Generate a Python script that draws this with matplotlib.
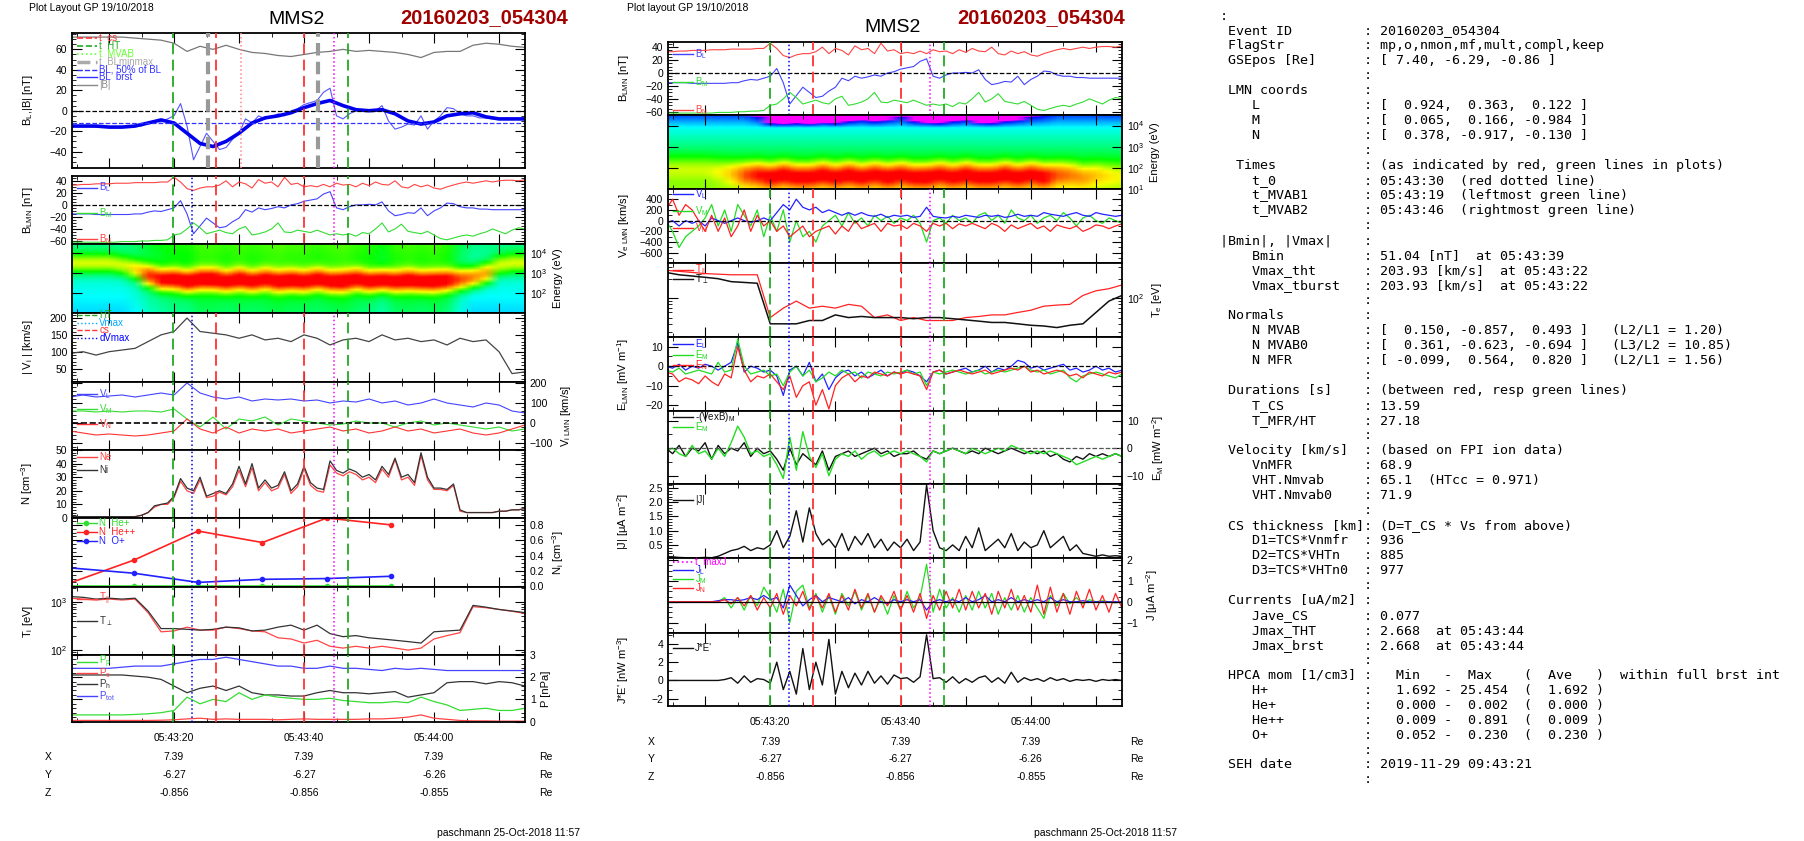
import numpy as np
import matplotlib
matplotlib.use("Agg")
import matplotlib.pyplot as plt
from matplotlib.colors import LinearSegmentedColormap
from matplotlib.ticker import MultipleLocator, FixedLocator, NullFormatter

plt.rcParams['font.family'] = ['Liberation Sans', 'DejaVu Sans']
plt.rcParams['font.size'] = 7.5
plt.rcParams['mathtext.fontset'] = 'custom'
plt.rcParams['mathtext.rm'] = 'Liberation Sans'
plt.rcParams['mathtext.it'] = 'Liberation Sans'

W, H = 1804, 841
# ---------------- data (seconds after 05:43:00) ----------------
ts = np.arange(4, 75, 2)          # 36 coarse samples
tf = np.arange(4, 75, 1)          # 71 fine samples

B_tot = [72,72,72,72,72,71,70,69,66,58,63,60,64,60,57,56,54,53,55,57,58,60,58,59,58,57,55,52,57,58,58,64,66,65,63,62]
BL_smooth = [-15,-15,-15,-16,-16,-15,-12,-9,-12,-22,-32,-35,-30,-22,-12,-7,-5,-2,3,7,10,5,1,0,1,-3,-10,-13,-11,-5,-3,-2,-6,-8,-8,-8]
BL_half = -12
BL = [-15,-15,-15,-15,-16,-16,-16,-16,-16,-16,-15,-15,-12,-10,-11,-8,-5,7,-15,-48,-35,-22,-30,-38,-36,-28,-22,-8,-12,-5,
      -8,-6,-3,-5,0,2,6,8,10,18,22,-5,-8,-3,0,0,1,0,5,-10,-18,-16,-13,-14,-5,-18,-10,-5,3,2,-3,-5,-5,-7,-7,-8,-8,-8,-8,-8,-8]
BM = [33,33,34,34,35,35,35,36,36,36,37,37,37,37,38,38,46,38,27,24,28,30,30,33,40,30,38,35,28,42,36,38,30,46,34,36,30,32,30,34,
      30,36,33,34,30,36,32,38,34,33,40,30,28,34,30,33,28,26,30,33,36,38,36,38,40,38,40,41,41,40,42]
BN = [-62,-62,-62,-62,-62,-62,-62,-62,-61,-61,-61,-60,-60,-59,-59,-58,-50,-48,-40,-30,-38,-48,-45,-42,-46,-48,-40,-36,-50,-48,
      -45,-40,-30,-45,-46,-42,-44,-46,-42,-46,-50,-48,-50,-48,-52,-46,-48,-40,-30,-45,-40,-32,-44,-46,-48,-44,-50,-56,-58,-55,
      -52,-50,-52,-48,-45,-40,-44,-48,-42,-38,-40]

# spectrogram profiles (log10 energy of flux peak, peak strength, low-energy background level)
ion_peak = [3.5,3.5,3.5,3.5,3.4,3.2,2.9,2.7,2.7,2.6,2.7,2.7,2.6,2.7,2.6,2.7,2.6,2.65,2.6,2.7,2.6,2.6,2.7,2.6,2.65,2.6,2.65,2.6,2.6,2.65,2.7,2.8,3.0,3.4,3.5,3.5]
ion_amp = [0.25,0.25,0.25,0.25,0.25,0.3,0.5,0.6,0.62,0.66,0.62,0.64,0.6,0.62,0.6,0.58,0.6,0.62,0.6,0.62,0.6,0.63,0.6,0.62,0.64,0.6,0.62,0.6,0.62,0.6,0.5,0.45,0.4,0.25,0.25,0.25]
ion_low = [0.22,0.22,0.22,0.22,0.22,0.24,0.28,0.3,0.32,0.32,0.35,0.35,0.34,0.35,0.34,0.35,0.36,0.35,0.35,0.34,0.35,0.36,0.34,0.33,0.3,0.34,0.35,0.34,0.35,0.33,0.26,0.22,0.22,0.22,0.22,0.22]
ele_peak = [2.0,2.0,2.0,2.0,1.9,1.8,1.7,1.7,1.6,1.7,1.6,1.6,1.7,1.6,1.7,1.6,1.7,1.6,1.7,1.6,1.6,1.7,1.6,1.7,1.6,1.6,1.7,1.6,1.7,1.6,1.7,1.7,1.6,1.7,1.7,1.7]
ele_amp = [0.12,0.12,0.12,0.12,0.14,0.2,0.35,0.45,0.5,0.52,0.5,0.5,0.52,0.5,0.52,0.5,0.5,0.52,0.5,0.5,0.52,0.5,0.5,0.52,0.5,0.5,0.52,0.5,0.5,0.5,0.35,0.3,0.25,0.2,0.15,0.12]
ele_low = [0.5,0.5,0.5,0.5,0.5,0.5,0.5,0.5,0.5,0.5,0.5,0.5,0.5,0.5,0.5,0.5,0.5,0.5,0.5,0.5,0.5,0.5,0.5,0.5,0.5,0.5,0.5,0.5,0.5,0.5,0.5,0.5,0.5,0.5,0.5,0.5]
ele_drop = [0.05,0.05,0.05,0.05,0.05,0.05,0.05,0.1,0.3,0.35,0.3,0.35,0.25,0.3,0.2,0.15,0.2,0.15,0.1,0.2,0.25,0.3,0.2,0.15,0.25,0.3,0.2,0.15,0.1,0.08,0.05,0.05,0.05,0.05,0.05,0.05]

Vi_mag = [95,100,90,100,105,110,130,150,160,200,160,155,150,140,150,135,140,130,150,140,120,135,140,130,150,135,140,130,135,120,140,130,135,100,35,40]
ViL = [130,140,130,135,140,130,140,150,140,200,150,130,120,130,110,120,115,120,110,115,100,110,105,120,100,110,90,100,120,100,90,80,100,90,60,50]
ViM = [60,60,55,60,55,60,60,55,70,20,-20,30,-30,20,10,30,-10,20,10,0,-10,-5,10,0,0,-20,0,10,-10,0,-10,-20,-30,-20,-40,-30]
ViN = [-40,-50,-60,-55,-60,-65,-60,-50,-40,20,-30,-50,-20,-50,-30,-40,-30,-50,-40,-30,-20,-40,-30,-50,-40,-20,-40,-30,-50,-40,-30,-50,-60,-50,-30,-10]

Ni = [1,1,1,1,1,1,1,1,1,1,1,2,4,9,10,11,16,29,22,20,30,16,18,20,18,25,38,25,40,22,28,22,24,34,20,25,38,26,22,21,
      42,35,33,36,34,30,32,28,38,32,44,30,32,26,48,30,22,22,21,25,6,4,4,4,4,4,5,5,6,6,7]
Ne = [1,1,1,1,1,1,1,1,1,1,1,2,4,8,10,10,15,27,20,18,28,15,16,19,17,23,35,23,37,20,26,20,22,32,18,23,36,24,20,19,
      39,33,31,34,32,28,30,26,36,30,43,28,30,24,46,28,21,21,20,24,5,4,4,4,4,4,5,5,6,6,7]

hp_t = [3.9,13.8,23.7,33.6,43.5,53.4]
N_Hepp = [0.04,0.34,0.72,0.57,0.89,0.80]
N_Op = [0.24,0.17,0.05,0.09,0.10,0.13]
N_Hep = [0.0,0.0,0.0,0.0,0.0,0.0]

Ti_perp = [1300,1250,1150,1200,1150,1200,650,280,280,270,260,270,300,290,250,260,300,330,260,330,220,190,200,180,170,160,150,140,240,250,260,850,780,700,650,600]
Ti_par = [1200,1150,1100,1150,1100,1150,600,240,250,300,260,260,300,280,250,240,180,170,140,160,120,110,120,110,120,110,100,110,170,200,230,800,760,700,640,580]

P_tot = [2.4,2.4,2.4,2.4,2.45,2.5,2.5,2.5,2.6,2.7,2.8,2.8,2.9,2.8,2.7,2.6,2.5,2.5,2.4,2.4,2.5,2.4,2.4,2.35,2.3,2.4,2.35,2.4,2.35,2.3,2.3,2.3,2.3,2.3,2.3,2.3]
P_h = [2.1,2.1,2.1,2.1,2.1,2.05,2.0,1.9,1.6,1.3,1.5,1.6,1.4,1.6,1.3,1.2,1.2,1.15,1.15,1.3,1.4,1.3,1.3,1.25,1.3,1.35,1.1,1.2,1.3,1.75,1.8,1.8,1.7,1.8,1.75,1.6]
P_p = [0.3,0.3,0.3,0.3,0.3,0.32,0.35,0.4,0.5,1.1,0.8,1.0,0.9,1.3,1.0,1.2,1.1,1.05,1.0,1.0,1.05,0.95,0.9,0.85,0.85,0.9,0.85,1.1,0.9,0.75,0.5,0.55,0.6,0.5,0.5,0.6]
P_e = [0.05,0.05,0.05,0.05,0.05,0.05,0.05,0.06,0.08,0.12,0.15,0.1,0.12,0.1,0.1,0.1,0.08,0.1,0.12,0.1,0.1,0.1,0.1,0.12,0.12,0.15,0.2,0.3,0.15,0.1,0.05,0.03,0.03,0.02,0.02,0.02]

VeL = [-50,0,-100,0,-50,0,-100,50,0,-50,0,50,0,-30,0,50,0,150,300,200,400,250,200,250,150,200,150,100,150,100,150,100,80,120,60,100,
       80,100,60,80,250,80,60,50,80,60,100,80,60,100,80,100,60,80,120,80,100,80,150,120,100,80,120,150,100,80,150,120,100,80,100]
VeM = [0,-200,-500,-300,-200,-100,50,300,-100,200,-200,300,100,-100,200,-300,100,-200,200,-400,0,-300,-200,-400,-100,0,100,-100,150,-50,50,-100,100,0,80,-50,
       50,0,100,-50,-400,0,50,-50,100,0,50,-50,100,150,0,100,-50,200,50,0,100,-50,50,100,0,150,50,-100,50,100,0,-50,50,0,-50]
VeN = [200,400,100,300,200,0,-200,100,-200,50,-300,-100,200,-200,100,-100,0,-200,-100,-300,-200,-100,-300,-200,-150,-100,-250,-100,-200,0,-150,-100,-50,-200,-50,-100,
       -80,-150,-50,-100,-200,-50,-100,-50,-150,-60,-100,-50,-100,-150,-50,-100,-200,-80,-150,-100,-50,-150,-100,-200,-80,-120,-150,-100,-200,-150,-80,-100,-150,-100,-60]

Te_perp = [250,230,220,210,200,180,175,170,40,40,40,45,45,55,50,52,50,50,50,48,50,50,48,46,44,42,42,40,38,37,35,38,40,60,90,110]
Te_par = [270,260,250,240,235,230,230,230,50,70,90,70,75,70,80,75,50,55,45,50,45,45,45,50,52,55,55,60,65,75,78,80,110,130,140,160]

EL = [0,-1,1,-2,0,-1,1,0,-2,0,2,12,-3,0,-1,-3,-2,-5,-15,-2,0,-5,2,-8,-4,-12,-6,-3,-2,-5,-3,-6,-4,-2,-5,-3,-4,
      -2,-3,-5,-8,-3,-2,-4,-3,-2,-1,-3,-2,0,-3,-1,-2,0,3,2,-1,0,-2,-1,0,1,-2,-1,-3,-2,0,-2,-1,-3,-2]
EM = [-2,-3,-1,-4,-3,-2,-3,-4,2,-3,-2,14,0,-4,-3,-2,-5,-4,-10,-3,0,-5,-2,-8,-6,-3,-5,-2,-4,-3,-6,-3,-4,-5,-3,-4,-3,
      -2,-4,-3,-10,-3,-4,-3,-2,-3,-4,-3,-2,-4,-3,-2,-3,-2,-1,0,-2,-3,-2,-4,-3,-2,-6,-8,-5,-4,-3,-4,-5,-6,-4]
EN = [-3,-4,-8,-6,-7,-9,-5,-8,-10,-4,-6,10,-2,-8,-5,-6,-4,-8,-12,-5,-16,-10,-8,-20,-12,-22,-10,-6,-4,-8,-5,-6,-3,-4,-5,-3,-4,
      -3,-4,-5,-12,-3,-2,-4,-3,-2,-3,-4,-3,-2,-4,-3,-2,-1,-2,0,-3,-2,-4,-3,-2,-3,-5,-4,-6,-3,-4,-5,-3,-4,-3]
VxB_M = [0,-2,1,-3,0,-1,2,-4,1,-2,0,-1,2,-3,0,-2,-1,-4,-8,0,-6,-2,-4,-6,-1,-8,-3,-2,-1,-3,-2,-1,0,-2,-1,-3,-2,
         -2,-1,-3,-4,-1,-2,-1,0,-1,-2,-1,-2,0,-1,-2,-1,0,-1,-2,-1,-2,-1,-3,-2,-4,-5,-3,-4,-2,-3,-2,-3,-2,-3]
EM2 = [-1,0,-2,-3,1,-2,-1,-4,0,-3,2,8,4,-2,-1,-3,-2,-6,-11,4,-8,6,-3,-7,-2,-10,-4,-2,-3,-1,-4,-2,-1,-3,-2,-1,-2,
       -1,-2,-3,-5,-1,-2,-1,0,-1,-2,0,-1,-2,-1,0,-1,1,0,-1,-2,-1,-2,-1,-2,-3,-4,-6,-5,-4,-3,-4,-3,-2,-3]

J_mag = [0.1,0.08,0.06,0.05,0.05,0.05,0.06,0.05,0.1,0.2,0.3,0.35,0.45,0.3,0.4,0.35,0.5,1.0,0.4,0.8,1.7,0.6,1.8,0.9,0.5,0.7,0.4,0.9,0.3,0.8,0.5,0.9,0.4,0.7,0.3,0.6,0.4,
         0.7,0.3,0.6,2.6,1.0,0.4,0.3,0.5,0.3,0.8,0.4,1.1,0.3,0.5,0.7,0.4,0.9,0.3,0.6,0.4,0.5,1.0,0.4,0.6,0.8,0.3,0.5,0.2,0.15,0.1,0.15,0.1,0.12,0.1]
JL = [0,0,0,0,0,0,0,0,0.05,0.1,0.1,0.05,0.1,0.2,0.1,0.3,0.1,0.2,-0.3,0.8,0.3,-0.2,0.1,0.3,0,0.2,0.1,0,0.2,-0.1,0.1,0,0.2,0,-0.1,0.1,0,
      0.1,0,0.1,-0.4,0,0.1,0,0.1,0,0.2,0,0.1,0.3,0,0.1,0,0.2,0,0.1,0,0.1,0,0.2,0,0.1,0,0,0.05,0,0,0,0,0,0]
JM = [0,0,0,0,0,0,0,0,0,0.2,-0.3,0.2,-0.4,0.3,-0.2,0.7,0.2,-0.5,0.6,-1.0,0.5,0.8,-0.3,0.4,-0.5,0.3,-0.6,0.4,-0.2,0.5,-0.4,0.3,-0.5,0.2,-0.6,0.3,-0.4,
      0.5,-0.3,0.2,1.8,-0.5,0.6,-0.3,0.2,-0.5,0.3,-0.4,0.5,-0.3,0.4,-0.6,0.2,-0.4,0.3,-0.5,0.2,-0.3,-0.8,0.3,-0.2,0.4,-0.1,0.2,-0.1,0.1,0,0.05,0,-0.05,0]
JN = [0,0,0,0,0,0,0,0,0,0.1,-0.1,0.2,-0.2,0.3,-0.4,0.2,-0.3,0.4,-0.6,0.3,-0.2,0.5,-0.4,0.3,-0.3,0.4,-0.5,0.3,-0.4,0.6,-0.3,0.4,-0.5,0.3,-0.2,0.5,-0.4,
      0.3,-0.5,0.4,-0.8,0.3,-0.4,0.5,-0.3,0.6,-0.4,0.5,-0.3,0.4,-0.6,0.5,-0.3,0.6,-0.4,0.3,-0.5,0.8,-0.6,0.7,-0.5,0.4,-0.6,0.5,-0.3,0.6,-0.4,0.3,-0.5,0.4,-0.3]
JE = [0,0,0,0,0,0,0,0,0,0.1,0.3,-0.3,0.5,-0.2,0.2,0.1,-0.3,2,-1,1,-1.5,3.5,-1,2,-0.5,4.5,-1.5,1,-0.8,0.8,-0.5,1,-0.3,0.5,-0.4,0.6,0.2,
      0.3,-0.2,0.4,5,0.2,0.3,-0.2,0.4,-0.3,0.2,-0.2,0.3,0.5,-0.2,0.3,-0.3,0.9,-0.2,0.3,0,0.2,-0.1,0.3,0,0.2,-0.1,0.1,0,0.1,-0.1,0.1,0,0.1,0]

t_green = [19.9, 46.7]; t_red = [26.5, 40.0]; t_blue = 22.8; t_mag = 44.6
t_gray = [25.2, 42.1]; t_zero = 30.3
pos_ticks = [20, 40, 60]
pos_X = ['7.39', '7.39', '7.39']; pos_Y = ['-6.27', '-6.27', '-6.26']; pos_Z = ['-0.856', '-0.856', '-0.855']

info = [
    (None, ':'),
    (' Event ID', '20160203_054304'), (' FlagStr', 'mp,o,nmon,mf,mult,compl,keep'),
    (' GSEpos [Re]', '[ 7.40, -6.29, -0.86 ]'), ('', ''), (' LMN coords', ''),
    ('    L', '[  0.924,  0.363,  0.122 ]'), ('    M', '[  0.065,  0.166, -0.984 ]'),
    ('    N', '[  0.378, -0.917, -0.130 ]'), ('', ''),
    ('  Times', '(as indicated by red, green lines in plots)'),
    ('    t_0', '05:43:30  (red dotted line)'), ('    t_MVAB1', '05:43:19  (leftmost green line)'),
    ('    t_MVAB2', '05:43:46  (rightmost green line)'), ('', ''),
    ('|Bmin|, |Vmax|', ''), ('    Bmin', '51.04 [nT]  at 05:43:39'),
    ('    Vmax_tht', '203.93 [km/s]  at 05:43:22'), ('    Vmax_tburst', '203.93 [km/s]  at 05:43:22'), ('', ''),
    (' Normals', ''), ('    N MVAB', '[  0.150, -0.857,  0.493 ]   (L2/L1 = 1.20)'),
    ('    N MVAB0', '[  0.361, -0.623, -0.694 ]   (L3/L2 = 10.85)'),
    ('    N MFR', '[ -0.099,  0.564,  0.820 ]   (L2/L1 = 1.56)'), ('', ''),
    (' Durations [s]', '(between red, resp green lines)'), ('    T_CS', '13.59'), ('    T_MFR/HT', '27.18'), ('', ''),
    (' Velocity [km/s]', '(based on FPI ion data)'), ('    VnMFR', '68.9'),
    ('    VHT.Nmvab', '65.1  (HTcc = 0.971)'), ('    VHT.Nmvab0', '71.9'), ('', ''),
    (' CS thickness [km]', '(D=T_CS * Vs from above)'), ('    D1=TCS*Vnmfr', '936'),
    ('    D2=TCS*VHTn', '885'), ('    D3=TCS*VHTn0', '977'), ('', ''),
    (' Currents [uA/m2]', ''), ('    Jave_CS', '0.077'), ('    Jmax_THT', '2.668  at 05:43:44'),
    ('    Jmax_brst', '2.668  at 05:43:44'), ('', ''),
    (' HPCA mom [1/cm3]', '  Min   -  Max    (  Ave   )  within full brst int'),
    ('    H+', '  1.692 - 25.454  (  1.692 )'), ('    He+', '  0.000 -  0.002  (  0.000 )'),
    ('    He++', '  0.009 -  0.891  (  0.009 )'), ('    O+', '  0.052 -  0.230  (  0.230 )'), ('', ''),
    (' SEH date', '2019-11-29 09:43:21'), ('', ''),
]

# ---------------- helpers ----------------
fig = plt.figure(figsize=(W/100, H/100), dpi=100)
XL = (4.3, 74.0)

def add_ax(l, t, r, b):
    return fig.add_axes([l/W, 1-b/H, (r-l)/W, (b-t)/H])

def style(ax, right=False, last=False):
    ax.set_xlim(*XL)
    ax.xaxis.set_major_locator(MultipleLocator(10))
    ax.xaxis.set_minor_locator(MultipleLocator(5))
    ax.tick_params(which='both', direction='in', top=True, right=True, left=True, labelsize=7.5)
    ax.tick_params(which='major', length=7)
    ax.tick_params(which='minor', length=3)
    for s in ax.spines.values():
        s.set_linewidth(1.3)
    if right:
        ax.yaxis.tick_right(); ax.yaxis.set_label_position('right')
        ax.tick_params(left=True, right=True, which='both')
    if last:
        ax.xaxis.set_major_locator(FixedLocator([10, 20, 30, 40, 50, 60, 70]))
        ax.set_xticklabels(['', '05:43:20', '', '05:43:40', '', '05:44:00', ''])
        ax.tick_params(axis='x', pad=8)
    else:
        ax.xaxis.set_major_formatter(NullFormatter())

def vlines(ax, gray=False, blue=True, zero=False):
    for t in t_green:
        ax.axvline(t, color='#22aa22', ls=(0, (6, 3)), lw=1.3, zorder=5)
    for t in t_red:
        ax.axvline(t, color='#ff3333', ls=(0, (6, 3)), lw=1.3, zorder=5)
    if blue:
        ax.axvline(t_blue, color='#0000ff', ls=':', lw=1.1, zorder=5)
    ax.axvline(t_mag, color='#ff00ff', ls=':', lw=1.1, zorder=5)
    if gray:
        for t in t_gray:
            ax.axvline(t, color='#999999', ls=(0, (3, 1.5)), lw=3, zorder=5)
    if zero:
        ax.axvline(t_zero, color='#ff8888', ls=':', lw=1.1, zorder=5)

def legend(ax, items, y0=0.93, dy=None, px=11):
    bb = ax.get_position()
    hpx = bb.height * H
    d = px / hpx if dy is None else dy
    for i, (lab, col, ls, lw) in enumerate(items):
        y = y0 - i * d
        ax.plot([0.012, 0.055], [y, y], transform=ax.transAxes, color=col, ls=ls, lw=lw, zorder=7, clip_on=False)
        ax.text(0.06, y, lab, transform=ax.transAxes, color=col, fontsize=7, va='center', ha='left', zorder=7)

cmap = LinearSegmentedColormap.from_list('spec', ['#0000ff', '#00ffff', '#00ff00', '#ffff00', '#ff8000', '#ff0000'])
cmap.set_under('#ff00ff')

def spectro(ax, peak, amp, low, slope, w, drop=None, lo=1.0, hi=4.5, dcut=4.0):
    le = np.linspace(lo, hi, 80)
    tt = np.asarray(ts, float)
    Z = np.zeros((len(le), len(tt)))
    for j in range(len(tt)):
        base = low[j] - slope * (le - lo)
        if drop is not None:
            base = base - drop[j] * np.clip(le - dcut, 0, None) * 2.5
        Z[:, j] = base + amp[j] * np.exp(-((le - peak[j]) / w) ** 2)
    ax.pcolormesh(tt, 10 ** le, Z, cmap=cmap, vmin=0.08, vmax=0.9, shading='gouraud')
    ax.set_yscale('log')
    ax.set_ylim(10 ** lo, 10 ** hi)

def left_label(ax, s):
    ax.set_ylabel(s, fontsize=8)
    ax.yaxis.set_label_coords(-0.082, 0.5)

# ---------------- LEFT COLUMN ----------------
Lx0, Lx1 = 72, 525
rows = [(33, 168), (176, 244), (244, 313), (313, 382), (382, 450), (450, 518), (518, 587), (587, 655), (655, 722)]
A = [add_ax(Lx0, t, Lx1, b) for t, b in rows]

ax = A[0]; style(ax)
ax.plot(ts, B_tot, color='#777777', lw=0.9)
ax.plot(tf, BL, color='#5555ff', lw=0.8)
ax.plot(ts, BL_smooth, color='#0000ee', lw=2.6)
ax.axhline(BL_half, color='#3333ff', ls='--', lw=0.9)
ax.axhline(0, color='k', ls='--', lw=0.9)
vlines(ax, gray=True, blue=False, zero=True)
ax.set_ylim(-56, 76); ax.yaxis.set_major_locator(MultipleLocator(20)); ax.yaxis.set_minor_locator(MultipleLocator(5))
left_label(ax, 'B$_L$,|B| [nT]')
legend(ax, [('t  cs', '#ff3333', '--', 1.2), ('t  HT', '#22aa22', '--', 1.2), ('t  MVAB', '#66ff33', ':', 1.2),
            ('t  BLminmax', '#aaaaaa', '--', 2.5), ('BL, 50% of BL', '#3333ff', '--', 1), ('BL  brst', '#3333ff', '-', 1),
            ('|B|', '#888888', '-', 1)], y0=0.96, px=7.8)

def blmn(ax):
    ax.plot(tf, BM, color='#ff4444', lw=0.8)
    ax.plot(tf, BL, color='#4444ff', lw=0.8)
    ax.plot(tf, BN, color='#33dd33', lw=0.8)
    ax.axhline(0, color='k', ls='--', lw=0.9)
    ax.set_ylim(-65, 48); ax.yaxis.set_major_locator(MultipleLocator(20)); ax.yaxis.set_minor_locator(MultipleLocator(5))
    left_label(ax, 'B$_{LMN}$ [nT]')
    legend(ax, [('B$_L$', '#4444ff', '-', 1), ('B$_M$', '#33dd33', '-', 1), ('B$_N$', '#ff4444', '-', 1)], y0=0.83, dy=0.38)

ax = A[1]; style(ax); blmn(ax); vlines(ax)

ax = A[2]; style(ax, right=True)
spectro(ax, ion_peak, ion_amp, ion_low, -0.03, 0.5, lo=1.0, hi=4.45)
ax.yaxis.set_major_locator(FixedLocator([1e2, 1e3, 1e4]))
ax.set_ylabel('Energy (eV)', fontsize=8)

ax = A[3]; style(ax)
ax.plot(ts, Vi_mag, color='#444444', lw=0.9)
vlines(ax)
ax.set_ylim(10, 215); ax.yaxis.set_major_locator(MultipleLocator(50)); ax.yaxis.set_minor_locator(MultipleLocator(10))
left_label(ax, '| V$_i$ | [km/s]')
legend(ax, [('HT', '#22aa22', '--', 1), ('Vmax', '#00aaff', ':', 1), ('cs', '#ff3333', '--', 1), ('dVmax', '#0000ff', ':', 1)], y0=0.97, px=7.5)

ax = A[4]; style(ax, right=True)
ax.plot(ts, ViL, color='#4444ff', lw=0.8); ax.plot(ts, ViM, color='#33dd33', lw=0.8); ax.plot(ts, ViN, color='#ff3333', lw=0.8)
ax.axhline(0, color='k', ls='--', lw=1.2)
vlines(ax)
ax.set_ylim(-135, 205); ax.yaxis.set_major_locator(MultipleLocator(100)); ax.yaxis.set_minor_locator(MultipleLocator(20))
ax.set_ylabel('V$_{i\\ LMN}$ [km/s]', fontsize=8)
legend(ax, [('V$_L$', '#4444ff', '-', 1), ('V$_M$', '#33dd33', '-', 1), ('V$_N$', '#ff3333', '-', 1)], y0=0.82, dy=0.22)

ax = A[5]; style(ax)
ax.plot(tf, Ne, color='#ff4444', lw=0.9); ax.plot(tf, Ni, color='#333333', lw=0.9)
vlines(ax)
ax.set_ylim(0, 50); ax.yaxis.set_major_locator(MultipleLocator(10)); ax.yaxis.set_minor_locator(MultipleLocator(2))
left_label(ax, 'N [cm$^{-3}$]')
legend(ax, [('Ne', '#ff4444', '-', 1), ('Ni', '#333333', '-', 1)], y0=0.9, dy=0.19)

ax = A[6]; style(ax, right=True)
ax.plot(hp_t, N_Hep, color='#33dd33', marker='o', ms=3, lw=1.2)
ax.plot(hp_t, N_Hepp, color='#ff2222', marker='o', ms=3, lw=1.2)
ax.plot(hp_t, N_Op, color='#2222ff', marker='o', ms=3, lw=1.2)
vlines(ax)
ax.set_ylim(-0.01, 0.89); ax.yaxis.set_major_locator(MultipleLocator(0.2)); ax.yaxis.set_minor_locator(MultipleLocator(0.05))
ax.yaxis.set_major_formatter(matplotlib.ticker.FormatStrFormatter('%.1f'))
ax.set_ylabel('N$_i$ [cm$^{-3}$]', fontsize=8)
for i, (lab, col) in enumerate([('N  He+', '#33dd33'), ('N  He++', '#ff2222'), ('N  O+', '#2222ff')]):
    y = 0.93 - i * 0.13
    ax.plot([0.03], [y], transform=ax.transAxes, color=col, marker='o', ms=3)
    ax.plot([0.012, 0.055], [y, y], transform=ax.transAxes, color=col, lw=1)
    ax.text(0.06, y, lab, transform=ax.transAxes, color=col, fontsize=7, va='center')

ax = A[7]; style(ax)
ax.plot(ts, Ti_par, color='#ff4444', lw=0.9); ax.plot(ts, Ti_perp, color='#333333', lw=0.9)
vlines(ax)
ax.set_yscale('log'); ax.set_ylim(79, 2050)
left_label(ax, 'T$_i$ [eV]')
legend(ax, [('T$_{||}$', '#ff4444', '-', 1), ('T$_\\perp$', '#333333', '-', 1)], y0=0.82, dy=0.32)

ax = A[8]; style(ax, right=True, last=True)
ax.plot(ts, P_tot, color='#4444ff', lw=0.9); ax.plot(ts, P_h, color='#333333', lw=0.9)
ax.plot(ts, P_p, color='#33dd33', lw=0.9); ax.plot(ts, P_e, color='#ff4444', lw=0.9)
vlines(ax)
ax.set_ylim(-0.02, 3.0); ax.yaxis.set_major_locator(MultipleLocator(1)); ax.yaxis.set_minor_locator(MultipleLocator(0.2))
ax.set_ylabel('P [nPa]', fontsize=8)
legend(ax, [('P$_p$', '#33dd33', '-', 1), ('P$_e$', '#ff4444', '-', 1), ('P$_h$', '#333333', '-', 1), ('P$_{tot}$', '#4444ff', '-', 1)], y0=0.9, dy=0.17)

# ---------------- MIDDLE COLUMN ----------------
Mx0, Mx1 = 668, 1122
mrows = [(42, 115), (115, 189), (189, 263), (263, 337), (337, 411), (411, 484), (484, 558), (558, 633), (633, 706)]
M = [add_ax(Mx0, t, Mx1, b) for t, b in mrows]

ax = M[0]; style(ax); blmn(ax); vlines(ax)

ax = M[1]; style(ax, right=True)
spectro(ax, ele_peak, ele_amp, ele_low, 0.085, 0.55, drop=ele_drop, lo=1.0, hi=4.5, dcut=3.9)
ax.yaxis.set_major_locator(FixedLocator([1e1, 1e2, 1e3, 1e4]))
ax.set_ylabel('Energy (eV)', fontsize=8)

ax = M[2]; style(ax)
ax.plot(tf, VeM, color='#22dd22', lw=0.9); ax.plot(tf, VeL, color='#2222ff', lw=0.9); ax.plot(tf, VeN, color='#ff2222', lw=0.9)
ax.axhline(0, color='k', ls='--', lw=0.9)
vlines(ax)
ax.set_ylim(-790, 590); ax.yaxis.set_major_locator(MultipleLocator(200)); ax.yaxis.set_minor_locator(MultipleLocator(100))
left_label(ax, 'V$_{e\\ LMN}$ [km/s]')
legend(ax, [('V$_L$', '#2222ff', '-', 1), ('V$_M$', '#22dd22', '-', 1), ('V$_N$', '#ff2222', '-', 1)], y0=0.93, dy=0.23)

ax = M[3]; style(ax, right=True)
ax.plot(ts, Te_par, color='#ff2222', lw=0.9); ax.plot(ts, Te_perp, color='#111111', lw=1.1)
vlines(ax)
ax.set_yscale('log'); ax.set_ylim(25, 350)
ax.set_ylabel('T$_e$ [eV]', fontsize=8)
legend(ax, [('T$_{||}$', '#ff2222', '-', 1), ('T$_\\perp$', '#111111', '-', 1)], y0=0.9, dy=0.12)

ax = M[4]; style(ax)
ax.plot(tf, EL, color='#2222ff', lw=0.9); ax.plot(tf, EM, color='#22dd22', lw=0.9); ax.plot(tf, EN, color='#ff2222', lw=0.9)
ax.axhline(0, color='k', ls='--', lw=0.9)
vlines(ax)
ax.set_ylim(-23, 15); ax.yaxis.set_major_locator(MultipleLocator(10)); ax.yaxis.set_minor_locator(MultipleLocator(5))
left_label(ax, 'E$_{LMN}$ [mV m$^{-1}$]')
legend(ax, [('E$_L$', '#2222ff', '-', 1), ('E$_M$', '#22dd22', '-', 1), ('E$_N$', '#ff2222', '-', 1)], y0=0.9, dy=0.14)

ax = M[5]; style(ax, right=True)
ax.plot(tf, VxB_M, color='#111111', lw=1.0); ax.plot(tf, EM2, color='#22dd22', lw=1.0)
ax.axhline(0, color='#555555', ls='--', lw=0.9)
vlines(ax)
ax.set_ylim(-13, 13.5); ax.yaxis.set_major_locator(MultipleLocator(10)); ax.yaxis.set_minor_locator(MultipleLocator(5))
ax.set_ylabel('E$_M$ [mW m$^{-2}$]', fontsize=8)
legend(ax, [('-(VexB)$_M$', '#111111', '-', 1), ('E$_M$', '#22dd22', '-', 1)], y0=0.92, dy=0.14)

ax = M[6]; style(ax)
ax.plot(tf, J_mag, color='#111111', lw=1.0)
vlines(ax)
ax.set_ylim(0.04, 2.64); ax.yaxis.set_major_locator(FixedLocator([0.5, 1.0, 1.5, 2.0, 2.5])); ax.yaxis.set_minor_locator(MultipleLocator(0.1))
ax.yaxis.set_major_formatter(matplotlib.ticker.FormatStrFormatter('%.1f'))
left_label(ax, '|J| [μA m$^{-2}$]')
legend(ax, [('|J|', '#111111', '-', 1)], y0=0.78)

ax = M[7]; style(ax, right=True)
ax.plot(tf, JM, color='#22dd22', lw=0.9); ax.plot(tf, JL, color='#2222ff', lw=0.9); ax.plot(tf, JN, color='#ff2222', lw=0.9)
ax.axhline(0, color='k', lw=0.9)
vlines(ax)
ax.set_ylim(-1.5, 2.1); ax.yaxis.set_major_locator(MultipleLocator(1)); ax.yaxis.set_minor_locator(MultipleLocator(0.25))
ax.set_ylabel('J [μA m$^{-2}$]', fontsize=8)
legend(ax, [('t  maxJ', '#ff00ff', ':', 1.2), ('J$_L$', '#2222ff', '-', 1), ('J$_M$', '#22dd22', '-', 1), ('J$_N$', '#ff2222', '-', 1)], y0=0.95, dy=0.115)

ax = M[8]; style(ax, last=True)
ax.plot(tf, JE, color='#111111', lw=1.0)
vlines(ax)
ax.set_ylim(-2.8, 5.2); ax.yaxis.set_major_locator(MultipleLocator(2)); ax.yaxis.set_minor_locator(MultipleLocator(1))
left_label(ax, "J*E' [nW m$^{-3}$]")
legend(ax, [("J*E'", '#111111', '-', 1)], y0=0.8)

# ---------------- titles / position rows ----------------
def px_text(x, y, s, **kw):
    fig.text(x/W, 1-y/H, s, **kw)

px_text(29, 8, 'Plot Layout GP 19/10/2018', fontsize=7.5, va='center')
px_text(297, 20, 'MMS2', fontsize=14, ha='center', va='center')
px_text(400, 18, '20160203_054304', fontsize=14.5, color='#a00000', fontweight='bold', va='center')
px_text(627, 8, 'Plot layout GP 19/10/2018', fontsize=7.5, va='center')
px_text(893, 28, 'MMS2', fontsize=14, ha='center', va='center')
px_text(957, 18, '20160203_054304', fontsize=14.5, color='#a00000', fontweight='bold', va='center')

def tx(ax):
    return [ax.transData.transform((t, 0))[0] for t in pos_ticks]

fig.canvas.draw()
for axb, xlab, y0, dyr, xre in [(A[8], 48, 757, 18, 546), (M[8], 651, 742, 17.5, 1137)]:
    xs = tx(axb)
    for k, (nm, vals) in enumerate([('X', pos_X), ('Y', pos_Y), ('Z', pos_Z)]):
        y = y0 + k * dyr
        px_text(xlab, y, nm, fontsize=7.5, ha='center', va='center')
        for xv, v in zip(xs, vals):
            fig.text(xv/W, 1-y/H, v, fontsize=7.5, ha='center', va='center')
        px_text(xre, y, 'Re', fontsize=7.5, ha='center', va='center')
px_text(508, 833, 'paschmann 25-Oct-2018 11:57', fontsize=7.5, ha='center', va='center')
px_text(1105, 833, 'paschmann 25-Oct-2018 11:57', fontsize=7.5, ha='center', va='center')

# ---------------- info text ----------------
x0 = 1220
y_first = 31
i_seh = [i for i, (k, v) in enumerate(info) if k == ' SEH date'][0]
dy = (765 - y_first) / (i_seh - 1)
for i, (k, v) in enumerate(info):
    y = 16 if i == 0 else y_first + (i - 1) * dy
    if k is None:
        s = v
    else:
        s = f"{k:<18}: {v}" if v else f"{k:<18}:"
    px_text(x0, y, s, fontsize=9.6, family='DejaVu Sans Mono', va='center', ha='left')

fig.savefig('out.png', dpi=100)
